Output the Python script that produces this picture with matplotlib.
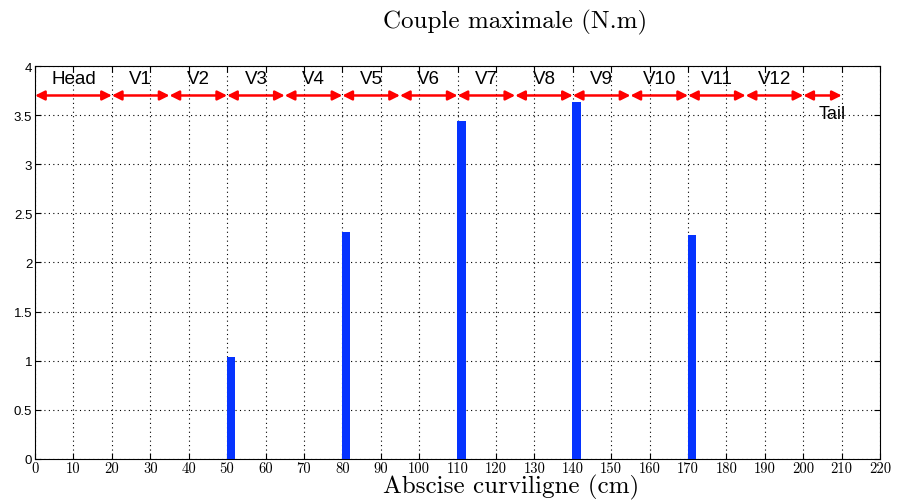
import matplotlib
matplotlib.use("Agg")
import matplotlib.pyplot as plt

# Data
positions = [51, 81, 111, 141, 171]
torques = [1.04, 2.31, 3.44, 3.63, 2.28]
seg_names = ["Head", "V1", "V2", "V3", "V4", "V5", "V6", "V7", "V8", "V9", "V10", "V11", "V12", "Tail"]
seg_bounds = [0, 20, 35, 50, 65, 80, 95, 110, 125, 140, 155, 170, 185, 200, 210]
xticks = list(range(0, 221, 10))
yticks = [0, 0.5, 1, 1.5, 2, 2.5, 3, 3.5, 4]
ytick_labels = ["0", "0.5", "1", "1.5", "2", "2.5", "3", "3.5", "4"]

fig = plt.figure(figsize=(8.99, 5.02), dpi=100)
ax = fig.add_axes([0.039, 0.0837, 0.940, 0.7828])

ax.bar(positions, torques, width=2.2, color="#0533ff", edgecolor="none", zorder=3)

ax.set_xlim(0, 220)
ax.set_ylim(0, 4)
ax.set_xticks(xticks)
ax.set_xticklabels([str(t) for t in xticks], family="cmr10", fontsize=10.5)
ax.set_yticks(yticks)
ax.set_yticklabels(ytick_labels, family="Liberation Sans", fontsize=9.5)
ax.tick_params(direction="in", length=4, top=True, right=True, pad=2)
ax.grid(True, linestyle=(0, (1, 3)), color="black", linewidth=0.8)
for s in ax.spines.values():
    s.set_linewidth(0.8)

arrow_y = 3.7
for i, name in enumerate(seg_names):
    x0, x1 = seg_bounds[i], seg_bounds[i + 1]
    ax.annotate("", xy=(x1, arrow_y), xytext=(x0, arrow_y),
                arrowprops=dict(arrowstyle="<|-|>", color="red", lw=1.8,
                                mutation_scale=14, shrinkA=0, shrinkB=0),
                zorder=4)
    if name == "Tail":
        ax.text(207.5, 3.52, name, ha="center", va="center",
                family="Liberation Sans", fontsize=13)
    else:
        ax.text((x0 + x1) / 2, 3.87, name, ha="center", va="center",
                family="Liberation Sans", fontsize=13.5)

fig.text(0.573, 0.955, "Couple maximale (N.m)", ha="center", va="center",
         family="cmr10", fontsize=18)
fig.text(0.569, 0.028, "Abscise curviligne (cm)", ha="center", va="center",
         family="cmr10", fontsize=18)

fig.savefig("out.png", dpi=100)
